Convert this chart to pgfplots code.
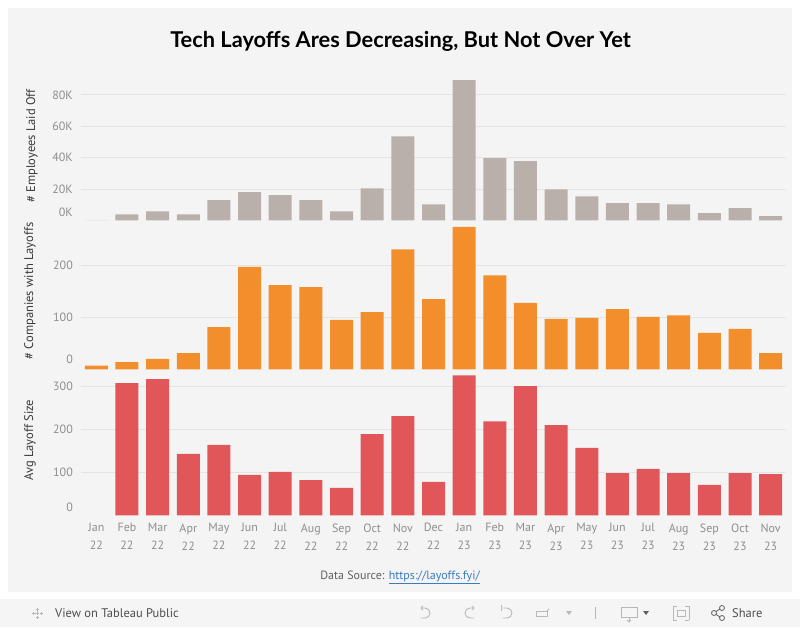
\documentclass[border=0pt]{standalone}
\usepackage{fontspec}
\setmainfont{PT Sans}
\newfontfamily\titlefont{Lato}
\usepackage{pgfplots}
\pgfplotsset{compat=1.18}
\definecolor{bg}{HTML}{F4F4F4}
\definecolor{tbar}{HTML}{F5F5F5}
\definecolor{gridc}{HTML}{E4E4E4}
\definecolor{ticktxt}{HTML}{8E8E8E}
\definecolor{labtxt}{HTML}{3A3A3A}
\definecolor{cgray}{HTML}{BAB0AB}
\definecolor{corange}{HTML}{F28E2B}
\definecolor{cred}{HTML}{E15759}
\definecolor{linkc}{HTML}{3B7BC0}
\definecolor{icon}{HTML}{B8B8B8}
\pgfplotsset{
  panel/.style={
    scale only axis, width=705pt, xmin=-0.5, xmax=22.5, ymin=0,
    axis line style={draw=none}, major tick length=0pt,
    ybar, bar width=23pt, scaled y ticks=false,
    ymajorgrids, grid style={color=gridc, line width=0.9pt},
    yticklabel style={font=\fontsize{12}{14}\selectfont, text=ticktxt, inner sep=0pt, anchor=east, xshift=-8pt},
    extra tick style={grid=none},
    xtick=\empty,
    clip=false,
  }
}
\begin{document}
\begin{tikzpicture}[x=1pt,y=1pt]
\fill[white] (0,0) rectangle (800,627);
\fill[bg] (8,35) rectangle (792,619);
\fill[tbar] (0,0) rectangle (800,28);
\node[anchor=base, inner sep=0pt] at (400.5,579.7) {\titlefont\bfseries\fontsize{21.8}{25}\selectfont Tech Layoffs Ares Decreasing, But Not Over Yet};

% Top panel: employees laid off
\begin{axis}[panel, at={(81pt,406.7pt)}, anchor=south west, height=144pt, ymax=91900,
  ytick={20000,40000,60000,80000}, yticklabels={20K,40K,60K,80K},
  extra y ticks={0}, extra y tick labels={\raisebox{17pt}{0K}}]
\addplot[fill=cgray, draw=none] coordinates {
(0,0) (1,3800) (2,5700) (3,3800) (4,12800) (5,17900) (6,16000) (7,12800)
(8,5700) (9,20400) (10,53600) (11,10200) (12,89400) (13,39600) (14,37700)
(15,19800) (16,15300) (17,10900) (18,10900) (19,10200) (20,4500) (21,7700) (22,2600)};
\end{axis}

% Middle panel: companies with layoffs
\begin{axis}[panel, at={(81pt,257.7pt)}, anchor=south west, height=147pt, ymax=283,
  ytick={100,200}, yticklabels={100,200},
  extra y ticks={0}, extra y tick labels={\raisebox{20pt}{0}}]
\addplot[fill=corange, draw=none] coordinates {
(0,7) (1,14) (2,20) (3,31) (4,81) (5,197) (6,162) (7,158) (8,95) (9,110)
(10,231) (11,135) (12,274) (13,181) (14,128) (15,97) (16,99) (17,116)
(18,101) (19,104) (20,70) (21,78) (22,31)};
\end{axis}

% Bottom panel: average layoff size
\begin{axis}[panel, at={(81pt,111.7pt)}, anchor=south west, height=146pt, ymax=340,
  ytick={100,200,300}, yticklabels={100,200,300},
  extra y ticks={0}, extra y tick labels={\raisebox{16pt}{0}},
  xtick={0,...,22},
  xticklabels={Jan\\22,Feb\\22,Mar\\22,Apr\\22,May\\22,Jun\\22,Jul\\22,Aug\\22,Sep\\22,Oct\\22,Nov\\22,Dec\\22,
               Jan\\23,Feb\\23,Mar\\23,Apr\\23,May\\23,Jun\\23,Jul\\23,Aug\\23,Sep\\23,Oct\\23,Nov\\23},
  xticklabel style={align=center, font=\fontsize{12}{18}\selectfont, text=ticktxt, inner sep=0pt, anchor=north, yshift=-8pt}]
\addplot[fill=cred, draw=none] coordinates {
(1,308) (2,317) (3,143) (4,164) (5,94) (6,101) (7,82) (8,64) (9,189) (10,231)
(11,78) (12,326) (13,219) (14,301) (15,210) (16,157) (17,98) (18,108) (19,98)
(20,71) (21,98) (22,96)};
\end{axis}

% axis titles
\node[rotate=90, text=labtxt, font=\fontsize{12.5}{14}\selectfont] at (32,481) {\# Employees Laid Off};
\node[rotate=90, text=labtxt, font=\fontsize{12.5}{14}\selectfont] at (30,336) {\# Companies with Layoffs};
\node[rotate=90, text=labtxt, font=\fontsize{12.5}{14}\selectfont] at (30,187) {Avg Layoff Size};

% data source
\node[font=\fontsize{12}{14}\selectfont, text=labtxt!80] at (400,49.5) {Data Source: \textcolor{linkc}{\underline{https://layoffs.fyi/}}};

% toolbar
\begin{scope}[icon, line width=0.8pt]
  \foreach \dx/\dy in {0/4,0/-4,4/0,-4/0} { \draw (37+\dx-1.5,14+\dy) -- (37+\dx+1.5,14+\dy); \draw (37+\dx,14+\dy-1.5) -- (37+\dx,14+\dy+1.5); }
  \draw (35,14) -- (39,14); \draw (37,12) -- (37,16);
\end{scope}
\node[anchor=west, text=labtxt!90, font=\fontsize{12.5}{14}\selectfont, inner sep=0pt] at (55,14) {View on Tableau Public};
\begin{scope}[icon, line width=0.9pt]
  \draw (421,19) -- (425,19) arc (90:-90:5) -- (421,9);
  \draw (421,19) -- (423,21) (421,19) -- (423,17);
  \draw (474,19) -- (470,19) arc (90:270:5) -- (474,9);
  \draw (474,19) -- (472,21) (474,19) -- (472,17);
  \draw (501,22) -- (501,16); \draw (503,19) -- (507,19) arc (90:-90:5) -- (503,9);
  \draw (536,16) rectangle (547,11); \draw (547,16) -- (549,18);
  \fill (566,16) -- (572,16) -- (569,12) -- cycle;
  \draw (595,20) -- (595,8);
  \draw (621,20) rectangle (637,10); \draw (629,10) -- (629,5); \draw (627,7) -- (629,5) -- (631,7);
  \fill[labtxt!80] (643,16) -- (649,16) -- (646,12) -- cycle;
  \draw (673,21) -- (673,7) (689,21) -- (689,7) (673,21) -- (677,21) (685,21) -- (689,21) (673,7) -- (677,7) (685,7) -- (689,7);
  \draw (677,17) rectangle (685,11);
\end{scope}
\begin{scope}[labtxt!80, line width=0.8pt]
  \draw (714,14) circle (2.5); \draw (722,19) circle (2.5); \draw (722,9) circle (2.5);
  \draw (716,15.5) -- (720,18) (716,12.5) -- (720,10);
\end{scope}
\node[anchor=west, text=labtxt!90, font=\fontsize{12.5}{14}\selectfont, inner sep=0pt] at (732,14) {Share};
\end{tikzpicture}
\end{document}
